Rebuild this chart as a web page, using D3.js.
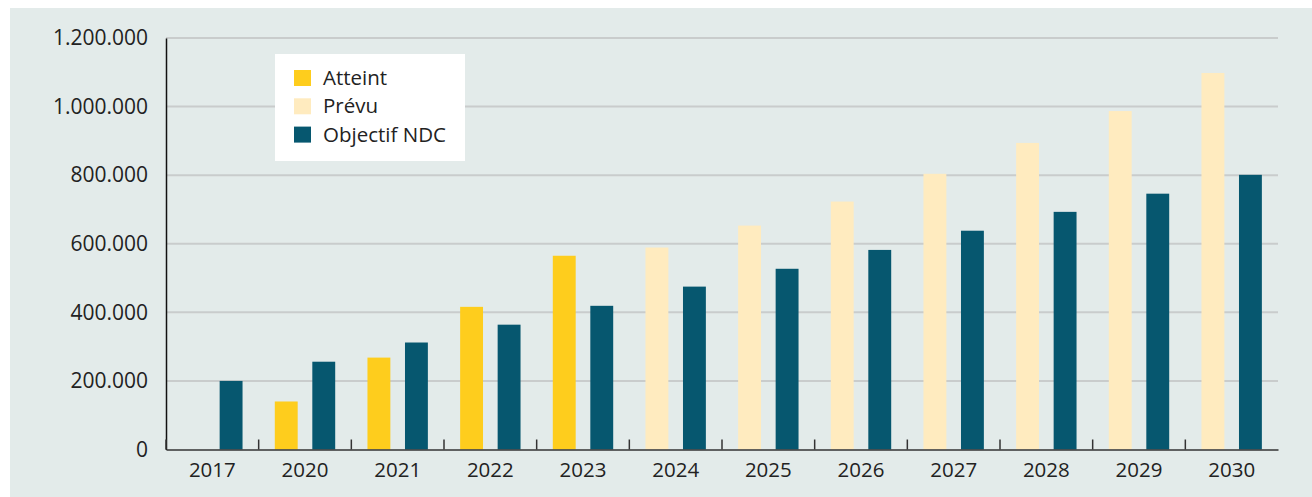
<!DOCTYPE html>
<html>
<head>
<meta charset="utf-8">
<script src="https://cdn.jsdelivr.net/npm/d3@7"></script>
<style>
    body { margin: 0; background: #fff; }
    svg { display: block; font-family: "Open Sans", "Noto Sans", sans-serif; }
</style>
</head>
<body>
<script>
const years = ["2017", "2020", "2021", "2022", "2023", "2024", "2025", "2026", "2027", "2028", "2029", "2030"];
// first bar of each year: reached ("Atteint") up to 2023, planned ("Prévu") after
const firstKind = ["atteint", "atteint", "atteint", "atteint", "atteint", "prevu", "prevu", "prevu", "prevu", "prevu", "prevu", "prevu"];
const firstValues = [0, 140000, 268000, 416000, 565000, 589000, 653000, 723000, 804000, 894000, 987000, 1098000];
const ndcValues = [200000, 256000, 312000, 364000, 419000, 475000, 527000, 582000, 638000, 693000, 746000, 801000];
const yTicks = [0, 200000, 400000, 600000, 800000, 1000000, 1200000];
const legendLabels = ["Atteint", "Prévu", "Objectif NDC"];

const colors = { atteint: "#fecd1d", prevu: "#ffebbf", ndc: "#06576f" };

const fullWidth = 1312;
const fullHeight = 497;
const margin = { top: 38, right: 34, bottom: 47.5, left: 166 };
const width = fullWidth - margin.left - margin.right;
const height = fullHeight - margin.top - margin.bottom;

const svg = d3.select("body").append("svg")
    .attr("width", fullWidth)
    .attr("height", fullHeight);

svg.append("rect")
    .attr("x", 10)
    .attr("y", 8)
    .attr("width", fullWidth - 10)
    .attr("height", fullHeight - 8)
    .style("fill", "#e3ebea");

const g = svg.append("g")
    .attr("transform", "translate(" + margin.left + "," + margin.top + ")");

const data = years.map((y, i) => ({
    year: y,
    bars: [
        { key: "first", kind: firstKind[i], value: firstValues[i] },
        { key: "ndc", kind: "ndc", value: ndcValues[i] }
    ]
}));

const x0 = d3.scaleBand().domain(years).range([0, width]).padding(0);
const x1 = d3.scaleBand().domain(["first", "ndc"]).range([0, x0.bandwidth()])
    .paddingInner(0.39).paddingOuter(0.43);
const y = d3.scaleLinear().domain([0, 1200000]).range([height, 0]);

const fmt = v => d3.format(",")(v).replace(/,/g, ".");

// gridlines
g.append("g")
    .selectAll("line")
    .data(yTicks.filter(d => d > 0))
    .enter().append("line")
    .attr("x1", 0)
    .attr("x2", width)
    .attr("y1", d => y(d))
    .attr("y2", d => y(d))
    .style("stroke", "#c9cccc")
    .style("stroke-width", 2);

// bars
const groups = g.selectAll(".year")
    .data(data)
    .enter().append("g")
    .attr("class", "year")
    .attr("transform", d => "translate(" + x0(d.year) + ",0)");

groups.selectAll("rect")
    .data(d => d.bars.filter(b => b.value > 0))
    .enter().append("rect")
    .attr("x", d => x1(d.key))
    .attr("width", x1.bandwidth())
    .attr("y", d => y(d.value))
    .attr("height", d => height - y(d.value))
    .style("fill", d => colors[d.kind]);

// y axis
const yAxis = d3.axisLeft(y).tickValues(yTicks).tickFormat(fmt).tickSize(0).tickPadding(18);
const yAxisG = g.append("g").call(yAxis).attr("font-family", null).attr("font-size", null);
yAxisG.select(".domain").style("stroke", "#111").style("stroke-width", 1.5);
yAxisG.selectAll("text")
    .style("font-size", "21px")
    .style("fill", "#222");

// x axis
const xAxisG = g.append("g")
    .attr("transform", "translate(0," + height + ")")
    .call(d3.axisBottom(x0).tickSize(0).tickPadding(13))
    .attr("font-family", null).attr("font-size", null);
xAxisG.select(".domain").style("stroke", "#333").style("stroke-width", 1.5);
xAxisG.selectAll("text")
    .style("font-size", "20.5px")
    .style("fill", "#222");

// tick marks between categories, pointing up
g.append("g")
    .selectAll("line")
    .data(years)
    .enter().append("line")
    .attr("x1", d => x0(d))
    .attr("x2", d => x0(d))
    .attr("y1", height)
    .attr("y2", height - 10)
    .style("stroke", "#333")
    .style("stroke-width", 1.5);

// legend
const legend = svg.append("g")
    .attr("transform", "translate(275,54)");

legend.append("rect")
    .attr("width", 190)
    .attr("height", 107)
    .style("fill", "#fff");

const legendKinds = ["atteint", "prevu", "ndc"];
const legendItems = legend.selectAll(".legend-item")
    .data(legendLabels)
    .enter().append("g")
    .attr("class", "legend-item")
    .attr("transform", (d, i) => "translate(19," + (16 + i * 28.3) + ")");

legendItems.append("rect")
    .attr("width", 17)
    .attr("height", 16)
    .style("fill", (d, i) => colors[legendKinds[i]]);

legendItems.append("text")
    .attr("x", 29)
    .attr("y", 8)
    .attr("dy", ".35em")
    .style("font-size", "20.5px")
    .style("fill", "#222")
    .text(d => d);
</script>
</body>
</html>
